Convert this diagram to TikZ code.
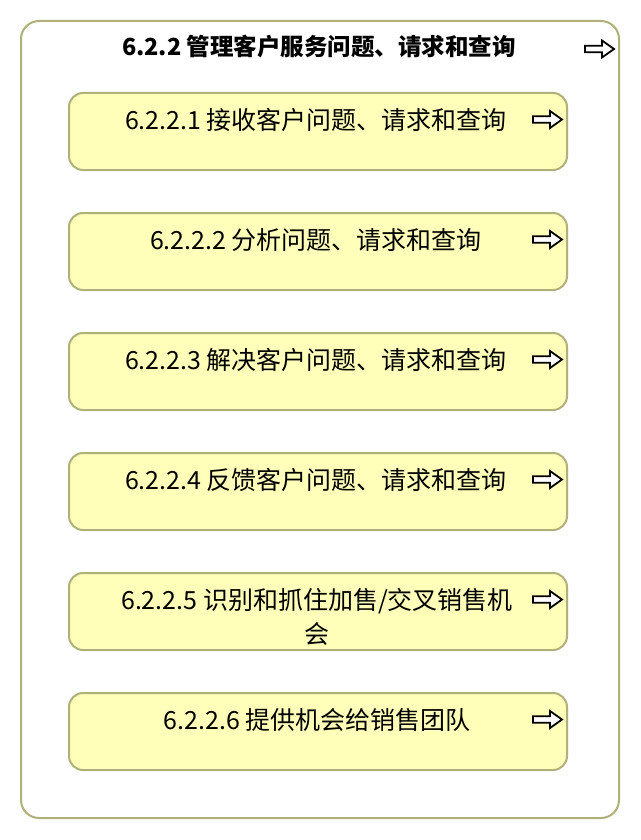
\documentclass[tikz,border=0pt]{standalone}
\usepackage{fontspec}
\newfontfamily\cjk{Noto Sans CJK SC}
\definecolor{boxfill}{RGB}{255,255,185}
\definecolor{boxline}{RGB}{176,176,122}
\tikzset{
  container/.style={draw=boxline, line width=2pt, fill=white, rounded corners=18pt, minimum width=598pt, minimum height=797pt, inner sep=0pt},
  taskbox/.style={draw=boxline, line width=2pt, fill=boxfill, rounded corners=14pt, minimum width=498pt, minimum height=77pt, inner sep=0pt},
  tasklabel/.style={font=\cjk\fontsize{25}{34}\selectfont, align=center, inner sep=0pt, text=black},
  titlelabel/.style={font=\cjk\bfseries\fontsize{23.5}{28}\selectfont, inner sep=0pt, text=black},
  fwd/.pic={\draw[line width=1.8pt, fill=white, line join=miter] (-14.5,-3.2) -- (2.5,-3.2) -- (2.5,-8.5) -- (14.5,0) -- (2.5,8.5) -- (2.5,3.2) -- (-14.5,3.2) -- cycle;}
}
\begin{document}
\begin{tikzpicture}[x=1pt,y=-1pt]
\useasboundingbox (0,0) rectangle (640,840);
\node[container] (outer) at (320,419.5) {};
\node[titlelabel] (title) at (319,47) {6.2.2 管理客户服务问题、请求和查询};
\pic at (599.5,49) {fwd};
\node[taskbox] (b1) at (318,131.5) {};
\node[taskbox] (b2) at (318,251.5) {};
\node[taskbox] (b3) at (318,371.5) {};
\node[taskbox] (b4) at (318,491.5) {};
\node[taskbox] (b5) at (318,611.5) {};
\node[taskbox] (b6) at (318,731.5) {};
\node[tasklabel] (t1) at (316,120) {6.2.2.1 接收客户问题、请求和查询};
\node[tasklabel] (t2) at (316,240) {6.2.2.2 分析问题、请求和查询};
\node[tasklabel] (t3) at (316,360) {6.2.2.3 解决客户问题、请求和查询};
\node[tasklabel] (t4) at (316,480) {6.2.2.4 反馈客户问题、请求和查询};
\node[tasklabel] (t5) at (317,617) {6.2.2.5 识别和抓住加售/交叉销售机\\会};
\node[tasklabel] (t6) at (317,720) {6.2.2.6 提供机会给销售团队};
\foreach \y in {119.5,239.5,359.5,479.5,599.5,719.5}
  \pic at (547.5,\y) {fwd};
\end{tikzpicture}
\end{document}
